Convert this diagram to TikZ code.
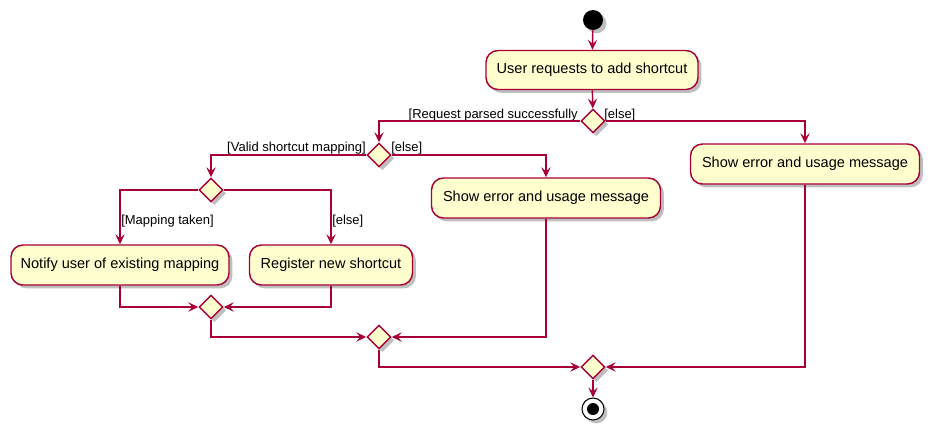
\documentclass[tikz,border=0pt]{standalone}
\usepackage{fontspec}
\setmainfont{Liberation Sans}
\usetikzlibrary{shapes.geometric,arrows.meta,shadows}
\definecolor{umlline}{HTML}{A80036}
\definecolor{umlfill}{HTML}{FEFECE}
\tikzset{
  act/.style={draw=umlline, fill=umlfill, line width=1.1pt, rounded corners=9pt,
    minimum height=30pt, inner sep=0pt, font=\fontsize{10.9}{13}\selectfont,
    drop shadow={shadow xshift=2.5pt, shadow yshift=-2.5pt, opacity=0.25, fill=black}},
  dec/.style={draw=umlline, fill=umlfill, line width=1.1pt, diamond, aspect=1,
    minimum width=18pt, minimum height=18pt, inner sep=0pt,
    drop shadow={shadow xshift=2.5pt, shadow yshift=-2.5pt, opacity=0.25, fill=black}},
  flow/.style={draw=umlline, line width=1.1pt, -{Stealth[length=7.5pt,width=7pt,inset=3pt]}},
  lbl/.style={font=\fontsize{9.75}{11}\selectfont, inner sep=0pt},
}
\begin{document}
\begin{tikzpicture}[x=0.75pt,y=-0.75pt]
\path[use as bounding box] (0,0) rectangle (936,437);
% start / end
\node[circle, fill=black, minimum size=15pt, inner sep=0pt,
  drop shadow={shadow xshift=2.5pt, shadow yshift=-2.5pt, opacity=0.25, fill=black}] (start) at (593,20) {};
\node[circle, draw=black, line width=0.8pt, fill=white, minimum size=16.5pt, inner sep=0pt,
  drop shadow={shadow xshift=2.5pt, shadow yshift=-2.5pt, opacity=0.25, fill=black}] (stop) at (593,409) {};
\node[circle, fill=black, minimum size=9pt, inner sep=0pt] (stopin) at (593,409) {};
% activities
\node[act, minimum width=159pt, minimum height=29.25pt] (req) at (592,70) {User requests to add shortcut};
\node[act, minimum width=171.75pt] (errR) at (805,164) {Show error and usage message};
\node[act, minimum width=171.75pt] (errM) at (546,198) {Show error and usage message};
\node[act, minimum width=163.5pt] (notify) at (120,265) {Notify user of existing mapping};
\node[act, minimum width=122.25pt] (reg) at (331,265) {Register new shortcut};
% decisions
\node[dec] (d1) at (593,121) {};
\node[dec] (d2) at (379,155) {};
\node[dec] (d3) at (211,190) {};
\node[dec] (d4) at (211,307) {};
\node[dec] (d5) at (379,337) {};
\node[dec] (d6) at (593,367) {};
% labels
\node[lbl, anchor=base east] (l1) at (578,118) {[Request parsed successfully};
\node[lbl, anchor=base west] (l2) at (604,118) {[else]};
\node[lbl, anchor=base east] (l3) at (366,151) {[Valid shortcut mapping]};
\node[lbl, anchor=base west] (l4) at (391,151) {[else]};
\node[lbl, anchor=base west] (l5) at (121,224) {[Mapping taken]};
\node[lbl, anchor=base west] (l6) at (332,224) {[else]};
% connectors
\draw[flow] (start) -- (req);
\draw[flow] (req) -- (d1);
\draw[flow] (d1.west) -| (d2.north);
\draw[flow] (d1.east) -| (errR.north);
\draw[flow] (d2.west) -| (d3.north);
\draw[flow] (d2.east) -| (errM.north);
\draw[flow] (d3.west) -| (notify.north);
\draw[flow] (d3.east) -| (reg.north);
\draw[flow] (notify.south) |- (d4.west);
\draw[flow] (reg.south) |- (d4.east);
\draw[flow] (d4.south) |- (d5.west);
\draw[flow] (errM.south) |- (d5.east);
\draw[flow] (d5.south) |- (d6.west);
\draw[flow] (errR.south) |- (d6.east);
\draw[flow] (d6) -- (stop);
\end{tikzpicture}
\end{document}
